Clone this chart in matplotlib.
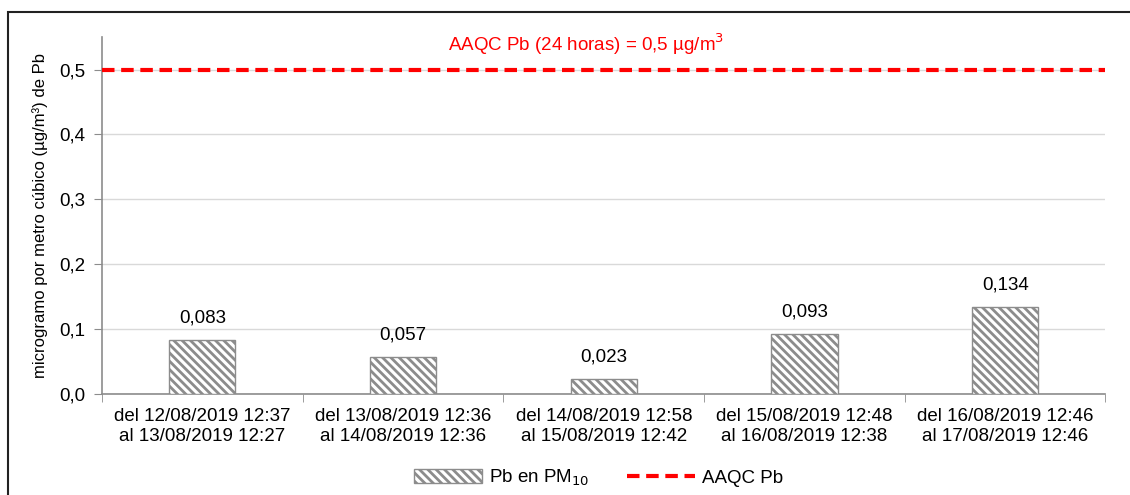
import matplotlib.pyplot as plt
import numpy as np
from matplotlib.patches import Rectangle

plt.rcParams['font.family'] = ['Liberation Sans', 'DejaVu Sans']
plt.rcParams['hatch.color'] = '#8c8c8c'
plt.rcParams['hatch.linewidth'] = 2.0

categories = [
    "del 12/08/2019 12:37\nal 13/08/2019 12:27",
    "del 13/08/2019 12:36\nal 14/08/2019 12:36",
    "del 14/08/2019 12:58\nal 15/08/2019 12:42",
    "del 15/08/2019 12:48\nal 16/08/2019 12:38",
    "del 16/08/2019 12:46\nal 17/08/2019 12:46",
]
pb_values = [0.083, 0.057, 0.023, 0.093, 0.134]
bar_labels = ["0,083", "0,057", "0,023", "0,093", "0,134"]
aaqc_limit = 0.5
y_ticks = [0.0, 0.1, 0.2, 0.3, 0.4, 0.5]
y_tick_labels = ["0,0", "0,1", "0,2", "0,3", "0,4", "0,5"]

fig = plt.figure(figsize=(11.3, 4.95), dpi=100)
ax = fig.add_axes([0.0903, 0.204, 0.888, 0.721])

# frame around the whole chart (cropped at right and bottom in the original)
fig.patches.append(Rectangle((0.007, -0.05), 1.1, 1.026, transform=fig.transFigure,
                             fill=False, edgecolor='#222222', linewidth=1.5))

x = np.arange(len(categories))
bars = ax.bar(x, pb_values, width=0.33, color='white', edgecolor='#8c8c8c',
              hatch='\\\\\\\\', linewidth=1.0, label='Pb en PM$_{10}$', zorder=3)
for xi, v, lab in zip(x, pb_values, bar_labels):
    ax.text(xi, v + 0.021, lab, ha='center', va='bottom', fontsize=13.5)

ax.axhline(aaqc_limit, color='#ff0000', linestyle=(0, (3, 1.6)), linewidth=3,
           label='AAQC Pb', zorder=4)
ax.text(1.91, 0.52, 'AAQC Pb (24 horas) = 0,5 µg/m$^3$', color='#ff0000',
        ha='center', va='bottom', fontsize=13.5)

ax.set_xlim(-0.5, len(categories) - 0.5)
ax.set_ylim(0, 0.55)
ax.set_yticks(y_ticks)
ax.set_yticklabels(y_tick_labels, fontsize=13.5)
ax.set_xticks(x)
ax.set_xticklabels(categories, fontsize=13.5)
ax.tick_params(axis='x', length=0, pad=10)
ax.set_xticks(np.arange(len(categories) + 1) - 0.5, minor=True)
ax.tick_params(axis='x', which='minor', length=6, color='#8c8c8c')
ax.tick_params(axis='y', length=6, color='#8c8c8c', pad=6)
ax.grid(axis='y', color='#d9d9d9', linewidth=1, zorder=0)
ax.set_axisbelow(True)

for side in ['top', 'right']:
    ax.spines[side].set_visible(False)
for side in ['left', 'bottom']:
    ax.spines[side].set_color('#8c8c8c')
    ax.spines[side].set_linewidth(1.2)

ax.set_ylabel('microgramo por metro cúbico (µg/m³) de Pb', fontsize=12, labelpad=8)

handles, labels = ax.get_legend_handles_labels()
order = [labels.index('Pb en PM$_{10}$'), labels.index('AAQC Pb')]
fig.legend([handles[i] for i in order], [labels[i] for i in order],
           loc='center', bbox_to_anchor=(0.53, 0.035), ncol=2, frameon=False,
           fontsize=13.5, handlelength=3.6, columnspacing=2.0, handletextpad=0.4)

fig.savefig('out.png', dpi=100)
